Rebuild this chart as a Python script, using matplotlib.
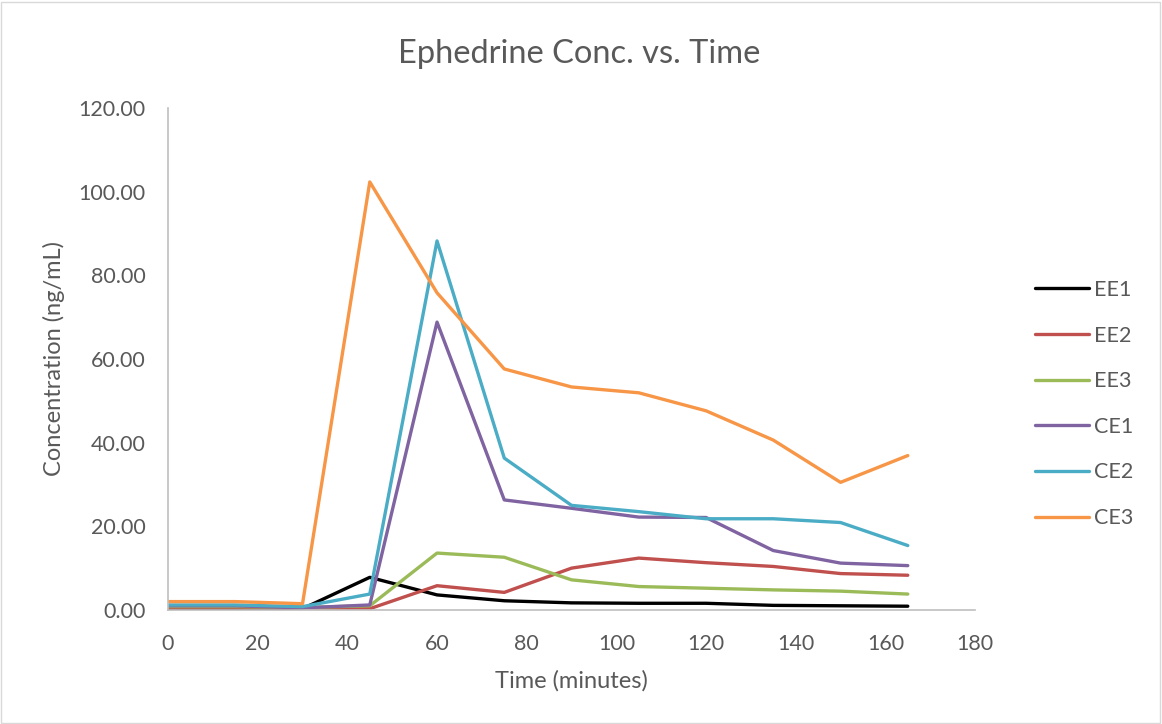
import matplotlib.pyplot as plt
from matplotlib.patches import Rectangle
from matplotlib.ticker import FormatStrFormatter

plt.rcParams['font.family'] = ['Lato', 'DejaVu Sans']

TIME = [0, 15, 30, 45, 60, 75, 90, 105, 120, 135, 150, 165]
EE1 = [0.2, 0.2, 0.3, 7.8, 3.6, 2.2, 1.7, 1.6, 1.6, 1.1, 1.0, 0.9]
EE2 = [0.5, 0.5, 0.5, 0.3, 5.8, 4.2, 10.0, 12.4, 11.3, 10.4, 8.7, 8.3]
EE3 = [0.8, 0.8, 0.6, 1.0, 13.6, 12.6, 7.2, 5.6, 5.2, 4.8, 4.5, 3.8]
CE1 = [1.0, 1.0, 0.5, 1.2, 68.8, 26.3, 24.3, 22.2, 22.1, 14.2, 11.2, 10.6]
CE2 = [1.2, 1.2, 0.8, 3.8, 88.2, 36.3, 25.0, 23.5, 21.8, 21.8, 20.9, 15.4]
CE3 = [2.0, 2.0, 1.5, 102.3, 75.8, 57.6, 53.3, 51.9, 47.6, 40.6, 30.5, 36.9]

SERIES = [('EE1', EE1, '#000000'), ('EE2', EE2, '#C0504D'),
          ('EE3', EE3, '#9BBB59'), ('CE1', CE1, '#8064A2'),
          ('CE2', CE2, '#4BACC6'), ('CE3', CE3, '#F79646')]
TEXT_COLOR = '#595959'
AXIS_COLOR = '#BFBFBF'

fig = plt.figure(figsize=(11.62, 7.24), dpi=100)
ax = fig.add_axes([0.1446, 0.1575, 0.6945, 0.6935])

for name, values, color in SERIES:
    ax.plot(TIME, values, color=color, linewidth=2.4, label=name,
            solid_joinstyle='round', solid_capstyle='round')

ax.set_xlim(0, 180)
ax.set_ylim(0, 120)
ax.set_xticks(range(0, 181, 20))
ax.set_yticks(range(0, 121, 20))
ax.yaxis.set_major_formatter(FormatStrFormatter('%.2f'))
ax.tick_params(length=0, labelsize=15.5, colors=TEXT_COLOR)
ax.tick_params(axis='x', pad=17)
ax.tick_params(axis='y', pad=16)
for side in ['top', 'right']:
    ax.spines[side].set_visible(False)
for side in ['left', 'bottom']:
    ax.spines[side].set_color(AXIS_COLOR)
    ax.spines[side].set_linewidth(1.2)

ax.set_xlabel('Time (minutes)', fontsize=17, color=TEXT_COLOR, labelpad=12)
ax.set_ylabel('Concentration (ng/mL)', fontsize=17, color=TEXT_COLOR, labelpad=10)
fig.text(0.4985, 0.925, 'Ephedrine Conc. vs. Time', fontsize=23.5,
         color=TEXT_COLOR, ha='center', va='center')

fig.legend(loc='center left', bbox_to_anchor=(0.8907, 0.442), frameon=False,
           fontsize=15.5, labelcolor=TEXT_COLOR, handlelength=2.5,
           handletextpad=0.25, labelspacing=1.19, borderpad=0,
           borderaxespad=0)

# thin chart border
fig.patches.append(Rectangle((0.001, 0.002), 0.997, 0.995,
                             transform=fig.transFigure, fill=False,
                             edgecolor='#D9D9D9', linewidth=1))

fig.savefig('out.png', dpi=100)
